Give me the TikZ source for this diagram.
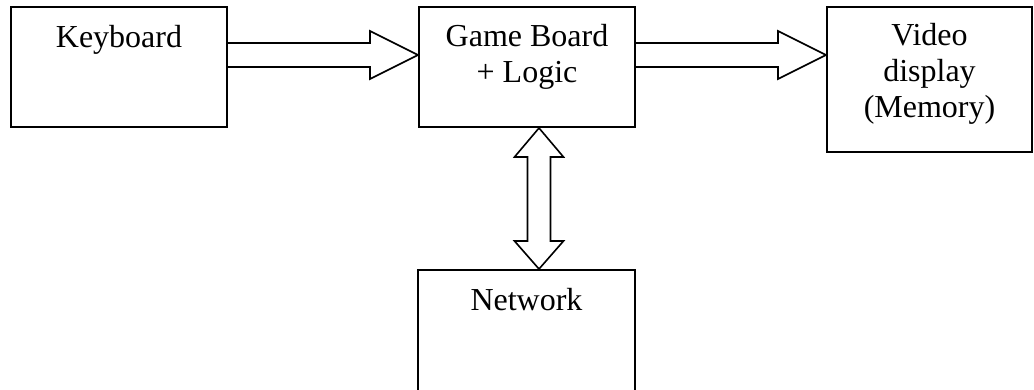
\documentclass[tikz,border=0pt]{standalone}
\usepackage{fontspec}
\setmainfont{Liberation Serif}
\usetikzlibrary{calc}
\tikzset{
  box/.style={draw, line width=2pt, inner sep=0pt, anchor=north west},
  lbl/.style={inner sep=0pt, align=center, anchor=base, font=\fontsize{32}{36}\selectfont},
  barrow/.style={draw, line width=1.6pt, fill=white, line join=miter}
}
\begin{document}
\begin{tikzpicture}[x=1pt,y=-1pt]
\useasboundingbox (0,0) rectangle (1034,389);
\clip (0,0) rectangle (1034,389);
\node[box, minimum width=216pt, minimum height=120pt] (kb) at (10,6) {};
\node[box, minimum width=216pt, minimum height=120pt] (gb) at (418,6) {};
\node[box, minimum width=205pt, minimum height=145pt] (vd) at (826,6) {};
\node[box, minimum width=217pt, minimum height=140pt] (net) at (417,269) {};
% base anchor of a multi-line label is the baseline of its last line
\node[lbl] (kbt) at ($(kb.north)+(0,41)$) {Keyboard};
\node[lbl] (gbt) at ($(gb.north)+(0,76)$) {Game Board\\+ Logic};
\node[lbl] (vdt) at ($(vd.north)+(0,111)$) {Video\\display\\(Memory)};
\node[lbl] (nett) at ($(net.north)+(0,41)$) {Network};
% Keyboard -> Game Board
\draw[barrow] ($(kb.east)+(0,-24)$) -- ($(gb.west)+(-48,-24)$) -- ($(gb.west)+(-48,-36)$)
  -- ($(gb.west)+(0,-12)$) -- ($(gb.west)+(-48,12)$) -- ($(gb.west)+(-48,0)$) -- ($(kb.east)+(0,0)$);
% Game Board -> Video
\coordinate (a2) at ($(gb.east)+(0,-12)$);
\draw[barrow] ($(gb.east)+(0,-24)$) -- ($(vd.west |- a2)+(-48,-12)$) -- ($(vd.west |- a2)+(-48,-24)$)
  -- (vd.west |- a2) -- ($(vd.west |- a2)+(-48,24)$) -- ($(vd.west |- a2)+(-48,12)$) -- ($(gb.east)+(0,0)$);
% Game Board <-> Network
\coordinate (a3) at ($(gb.south)+(12,0)$);
\draw[barrow] (a3) -- ($(a3)+(24.5,29)$) -- ($(a3)+(11.5,29)$) -- ($(net.north -| a3)+(11.5,-28)$)
  -- ($(net.north -| a3)+(24.5,-28)$) -- (net.north -| a3) -- ($(net.north -| a3)+(-24.5,-28)$)
  -- ($(net.north -| a3)+(-11.5,-28)$) -- ($(a3)+(-11.5,29)$) -- ($(a3)+(-24.5,29)$) -- cycle;
\end{tikzpicture}
\end{document}
